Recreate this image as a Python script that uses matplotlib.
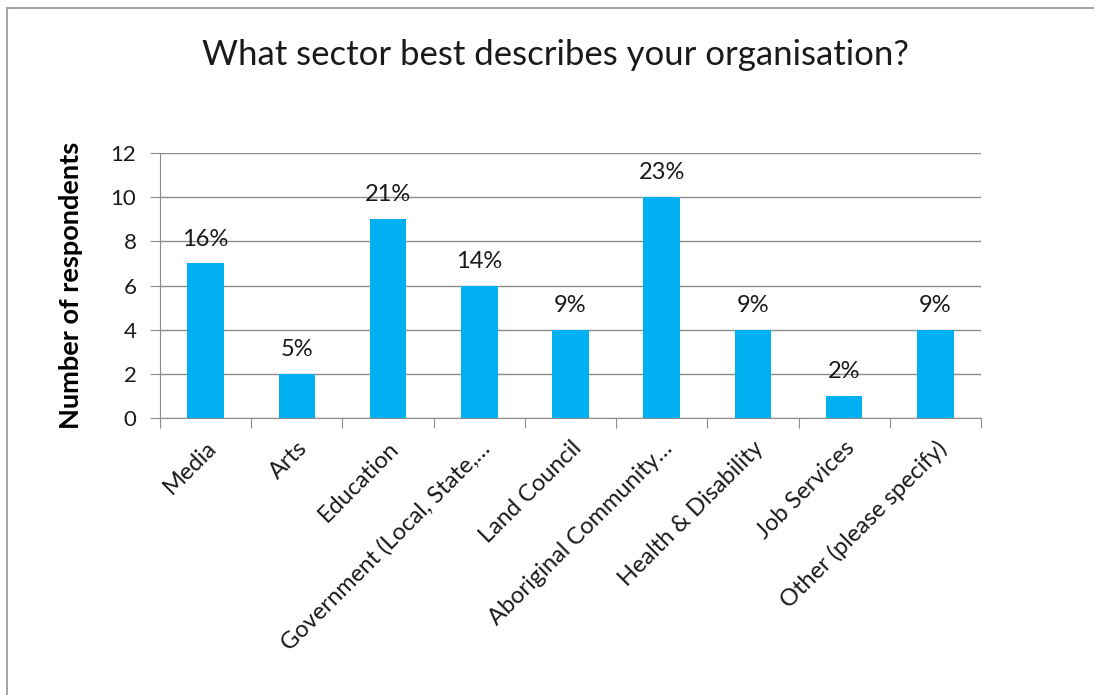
import matplotlib.pyplot as plt
from matplotlib.patches import Rectangle

sectors = ['Media', 'Arts', 'Education', 'Government (Local, State,…',
           'Land Council', 'Aboriginal Community…', 'Health & Disability',
           'Job Services', 'Other (please specify)']
respondents = [7, 2, 9, 6, 4, 10, 4, 1, 4]
pct_labels = ['16%', '5%', '21%', '14%', '9%', '23%', '9%', '2%', '9%']

plt.rcParams['font.family'] = ['Lato', 'DejaVu Sans']

fig = plt.figure(figsize=(10.94, 6.95), dpi=100)
ax = fig.add_axes([160 / 1094, 1 - 418 / 695, 821 / 1094, 265 / 695])

grid_col = '#8c8c8c'
x = range(len(sectors))
ax.bar(x, respondents, width=0.4, color='#00B0F0', zorder=3)

for i, (v, lab) in enumerate(zip(respondents, pct_labels)):
    ax.annotate(lab, (i, v), xytext=(0, 10), textcoords='offset points',
                ha='center', va='bottom', fontsize=17, color='#1a1a1a')

ax.set_xlim(-0.5, len(sectors) - 0.5)
ax.set_ylim(0, 12)
ax.set_yticks(range(0, 13, 2))
ax.yaxis.grid(True, color=grid_col, linewidth=1, zorder=0)
ax.tick_params(axis='y', labelsize=16, length=7, color=grid_col, pad=10,
               labelcolor='#1a1a1a')

# category boundary ticks on x axis
ax.set_xticks([i - 0.5 for i in range(len(sectors) + 1)])
ax.set_xticklabels([])
ax.tick_params(axis='x', length=7, color=grid_col)
ax.set_xticks(list(x), minor=True)
ax.set_xticklabels(sectors, minor=True, rotation=45, ha='right',
                   rotation_mode='anchor', fontsize=17, color='#1a1a1a')
ax.tick_params(axis='x', which='minor', length=0, pad=14)

for s in ['top', 'right']:
    ax.spines[s].set_visible(False)
for s in ['left', 'bottom']:
    ax.spines[s].set_color(grid_col)

ax.set_ylabel('Number of respondents', fontsize=19.5, fontweight='bold',
              labelpad=20)

fig.text(555 / 1094, 1 - 55 / 695, 'What sector best describes your organisation?',
         ha='center', va='center', fontsize=25, color='#1a1a1a')

# chart area frame
fig.patches.append(Rectangle((7 / 1094, -0.1), 1.2, 1 - 8 / 695 + 0.1,
                             transform=fig.transFigure, fill=False,
                             edgecolor='#a6a6a6', linewidth=1.5))

fig.savefig('out.png', dpi=100)
